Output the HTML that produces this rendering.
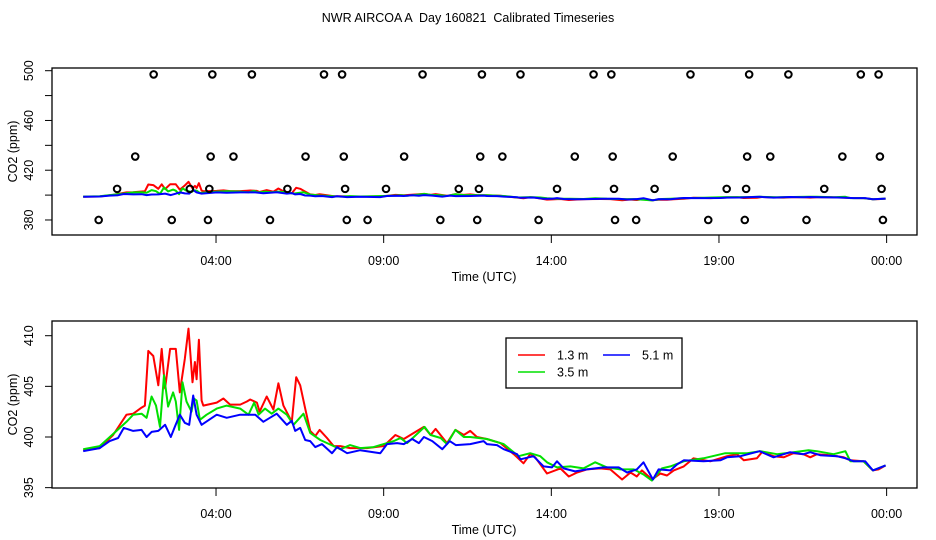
<!DOCTYPE html>
<html><head><meta charset="utf-8"><style>
body{margin:0;background:#fff}
svg{display:block;font-family:"Liberation Sans",sans-serif}
text{white-space:pre}
</style></head><body>
<svg id="chart" width="936" height="540" viewBox="0 0 936 540">
<text x="468" y="22" text-anchor="middle" font-size="12.5" xml:space="preserve">NWR AIRCOA A  Day 160821  Calibrated Timeseries</text>
</svg>
<script>
// ---- data ----
const xTickHours=[4,9,14,19,24];
const xTickLabels=["04:00","09:00","14:00","19:00","00:00"];
const topYTicks=[380,400,420,440,460,480,500];
const topYLabels=["380","420","460","500"];
const botYTicks=[395,400,405,410];
const seriesNames=["1.3 m","3.5 m","5.1 m"];
const seriesColors=["#ff0000","#00e000","#0000ff"];
const redT=[0.04,0.53,0.93,1.33,1.53,1.78,1.88,1.98,2.13,2.28,2.38,2.48,2.63,2.8,2.92,3.07,3.18,3.3,3.37,3.42,3.49,3.57,3.62,4.02,4.22,4.42,4.72,4.92,5.02,5.22,5.3,5.51,5.71,5.86,6.01,6.26,6.39,6.51,6.66,6.81,6.96,7.09,7.31,7.51,7.71,8,8.5,9,9.35,9.6,10,10.2,10.4,10.55,10.89,11.14,11.39,11.58,11.78,12.08,12.48,12.88,13.17,13.37,13.52,13.87,14.27,14.52,14.77,15.06,15.46,15.76,16.11,16.36,16.55,16.7,17,17.25,17.45,17.65,17.95,18.24,18.74,19.24,19.54,19.74,20.13,20.28,20.63,20.93,21.22,21.52,21.72,21.92,22.32,22.72,22.92,23.31,23.59,23.76,23.97];
const redV=[398.7,398.9,400.2,402.2,402.3,402.9,403.1,408.5,408,405.1,408.7,404.8,408.7,408.7,404.4,407.7,410.7,405.4,407.4,405.7,409.6,403.6,403.1,403.4,403.8,403.2,403.2,403.5,403.7,403.4,402.5,404,402.7,405.3,403.1,401.5,405.9,405.1,402.8,400.6,400.1,400.7,399.9,399.1,399.1,398.9,398.9,399.1,400.2,399.8,400.6,401,400.2,400.8,399.4,400.7,400.2,400.6,400,399.8,399.4,398.3,397.4,398.3,398,396.4,396.9,396.1,396.5,396.8,396.9,396.8,395.8,396.5,396.1,396.7,395.8,396.4,396.2,396.7,397.1,397.9,397.6,398.1,398.3,397.7,397.9,398.5,398.1,398,398.4,398.3,398,398.3,398.2,398,397.7,397.6,396.7,396.8,397.2];
const greenT=[0.04,0.53,0.93,1.33,1.53,1.78,1.93,2.08,2.21,2.33,2.45,2.57,2.72,2.8,2.9,3,3.12,3.27,3.34,3.42,3.52,3.72,4.02,4.32,4.72,4.97,5.14,5.27,5.46,5.66,5.86,6.11,6.31,6.61,6.81,7.11,7.51,7.71,8,8.3,8.7,9,9.3,9.5,9.7,9.9,10.22,10.4,10.7,10.89,11.14,11.39,11.58,12.08,12.58,13.02,13.37,13.67,13.87,14.17,14.57,14.96,15.31,15.66,16.06,16.46,16.75,17,17.3,17.55,17.95,18.54,19.19,19.84,20.23,20.73,21.22,21.67,21.92,22.42,22.77,22.92,23.31,23.59,23.97];
const greenV=[398.8,399.1,400.3,401.5,402.2,402.3,401.9,404,403.1,401,406.1,403,404.4,403.5,400.7,405.4,403.5,402.5,403.8,403.6,401.7,402.2,402.8,403.1,402.8,402.2,403.4,402.2,402.8,402.3,402.8,402.2,401.2,402.3,400.4,399.7,399.1,398.8,399.2,398.9,399,399.3,399.6,399.9,399.4,400,401,400.2,399.9,399.3,400.7,400,400,399.8,399.3,398.1,398.4,398.1,397.5,397,397.1,396.9,397.5,397,396.8,396.8,396.3,395.7,396.9,397.1,397.6,397.9,398.4,398.4,398.6,398.3,398.5,398.7,398.6,398.3,398.6,397.6,397.6,396.7,397.2];
const blueT=[0.04,0.53,0.83,1.08,1.25,1.53,1.78,1.93,2.08,2.28,2.48,2.65,2.77,2.92,3.07,3.2,3.32,3.42,3.57,4.02,4.32,4.72,5.17,5.41,5.81,6.11,6.26,6.36,6.51,6.66,6.81,6.96,7.16,7.46,7.61,7.91,8.3,8.9,9.1,9.4,9.6,9.85,10.05,10.2,10.45,10.75,10.97,11.15,11.58,11.98,12.08,12.38,12.58,12.98,13.08,13.47,13.77,14.02,14.17,14.37,14.71,15.06,15.56,16.01,16.26,16.55,16.75,17.03,17.2,17.55,17.75,17.95,18.54,19.04,19.24,19.64,20.21,20.63,21.12,21.52,21.72,22.02,22.52,22.77,23.02,23.36,23.59,23.97];
const blueV=[398.6,398.9,399.6,399.9,400.9,400.6,400.7,400,400.5,400.6,401.2,400,401,402.2,401.4,401.2,404.1,402.2,401.2,402.2,401.9,402.2,402.2,401.5,402.3,401.2,401.6,400.6,400.9,399.7,399.6,399,399.3,398.4,399,398.4,398.7,398.4,399.3,399.4,399.3,399.8,399.4,400,399.6,398.8,399.6,399.2,399.3,399.6,399.3,399.2,398.8,398.3,397.8,398.1,397.1,397,397.6,396.9,396.6,396.8,397,397,396.5,396.8,397.5,395.8,396.8,396.7,397.3,397.7,397.6,397.7,398,398.1,398.6,398,398.5,398.3,398.5,398.2,398.1,397.9,397.6,397.6,396.7,397.2];
const calT=[2.14,3.89,5.07,7.22,7.76,10.16,11.93,13.08,15.26,15.79,18.15,19.9,21.07,23.23,23.76,
1.59,3.84,4.52,6.67,7.81,9.61,11.88,12.54,14.7,15.83,17.62,19.84,20.53,22.68,23.8,
1.05,3.22,3.8,6.13,7.85,9.07,11.24,11.84,14.17,15.87,17.08,19.23,19.81,22.14,23.85,
0.5,2.68,3.76,5.61,7.9,8.52,10.69,11.79,13.62,15.9,16.53,18.68,19.77,21.61,23.89];
const calV=[497,497,497,497,497,497,497,497,497,497,497,497,497,497,497,
431,431,431,431,431,431,431,431,431,431,431,431,431,431,431,
405,405,405,405,405,405,405,405,405,405,405,405,405,405,405,
380,380,380,380,380,380,380,380,380,380,380,380,380,380,380,380];

// ---- drawing ----
const NS="http://www.w3.org/2000/svg";
const svg=document.getElementById('chart');
function mk(tag,attrs,parent,txt){const e=document.createElementNS(NS,tag);for(const k in attrs)e.setAttribute(k,attrs[k]);if(txt!==undefined)e.textContent=txt;(parent||svg).appendChild(e);return e;}
const xOf=h=>81.9+h*33.53;
const panels=[
 {top:68,bot:235,y:v=>70.7+(500-v)*1.244,ticks:topYTicks,labels:topYLabels,name:'top'},
 {top:321,bot:488,y:v=>335.7+(410-v)*10.13,ticks:botYTicks,labels:botYTicks.map(String),name:'bottom'}
];
panels.forEach(p=>{
 const g=mk('g',{});
 
 
 const box=mk('rect',{x:52,y:p.top,width:865,height:p.bot-p.top,fill:'none',stroke:'#000','stroke-width':1.3},g);
 
 
 const ya=mk('g',{},g);
 
 
 mk('line',{x1:52,x2:52,y1:p.y(p.ticks[0]),y2:p.y(p.ticks[p.ticks.length-1]),stroke:'#000'},ya);
 p.ticks.forEach(t=>{mk('line',{x1:45,x2:52,y1:p.y(t),y2:p.y(t),stroke:'#000'},ya);});
 p.labels.forEach(l=>{const yy=p.y(+l);const t=mk('text',{x:33,y:yy,'font-size':12.5,'text-anchor':'middle',transform:`rotate(-90 33 ${yy})`},ya,l);
  
  });
 const yl=mk('text',{x:17,y:(p.top+p.bot)/2,'font-size':12.5,'text-anchor':'middle',transform:`rotate(-90 17 ${(p.top+p.bot)/2})`},g,'CO2 (ppm)');
 
 
 const xa=mk('g',{},g);
 
 
 mk('line',{x1:xOf(4),x2:xOf(24),y1:p.bot,y2:p.bot,stroke:'#000'},xa);
 xTickHours.forEach((h,i)=>{mk('line',{x1:xOf(h),x2:xOf(h),y1:p.bot,y2:p.bot+8,stroke:'#000'},xa);
  const t=mk('text',{x:xOf(h),y:p.bot+30,'font-size':12.5,'text-anchor':'middle'},xa,xTickLabels[i]);
  
  });
 const xl=mk('text',{x:484,y:p.bot+46,'font-size':12.5,'text-anchor':'middle'},g,'Time (UTC)');
 
 
 [[redT,redV],[greenT,greenV],[blueT,blueV]].forEach((s,i)=>{
  const pl=mk('polyline',{points:s[0].map((h,j)=>xOf(h).toFixed(1)+','+p.y(s[1][j]).toFixed(1)).join(' '),fill:'none',stroke:seriesColors[i],'stroke-width':2,'stroke-linejoin':'round'},g);
  
  
 });
 if(p.name==='top'){
  calT.forEach((h,j)=>{const c=mk('circle',{cx:xOf(h),cy:p.y(calV[j]),r:3.3,fill:'none',stroke:'#000','stroke-width':2},g);
   
   });
 }
});
// legend
const lg=mk('g',{});


const lbox=mk('rect',{x:506,y:338,width:176,height:50,fill:'#fff',stroke:'#000','stroke-width':1.3},lg);


const legPos=[[518,355],[518,372],[603,355]];
seriesNames.forEach((n,i)=>{
 const e=mk('g',{},lg);
 
 
 mk('line',{x1:legPos[i][0],x2:legPos[i][0]+27,y1:legPos[i][1],y2:legPos[i][1],stroke:seriesColors[i],'stroke-width':1.5},e);
 mk('text',{x:legPos[i][0]+39,y:legPos[i][1]+4.5,'font-size':12.5},e,n);
});
</script>
</body></html>
